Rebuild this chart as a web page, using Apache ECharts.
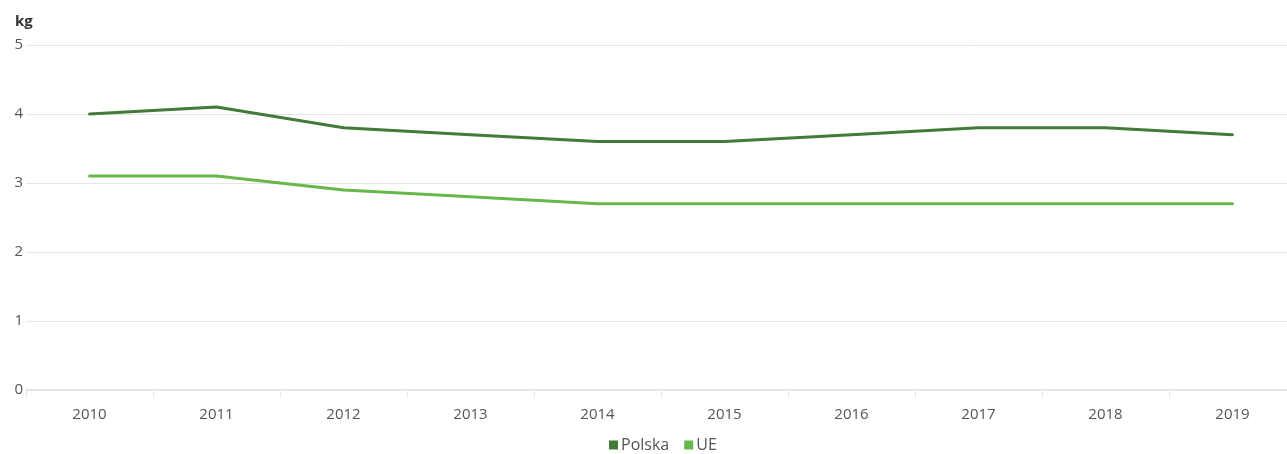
<!DOCTYPE html>
<html>
<head>
<meta charset="utf-8">
<script src="https://cdn.jsdelivr.net/npm/echarts@6/dist/echarts.min.js"></script>
<style>
  html, body { margin: 0; padding: 0; background: #fff; }
  #chart { width: 1287px; height: 454px; }
</style>
</head>
<body>
<div id="chart"></div>
<script>
const years = ['2010', '2011', '2012', '2013', '2014', '2015', '2016', '2017', '2018', '2019'];
const polska = [4.0, 4.1, 3.8, 3.7, 3.6, 3.6, 3.7, 3.8, 3.8, 3.7];
const ue = [3.1, 3.1, 2.9, 2.8, 2.7, 2.7, 2.7, 2.7, 2.7, 2.7];
const yTicks = [0, 1, 2, 3, 4, 5];

const font = '"Open Sans", "Noto Sans", sans-serif';
const chart = echarts.init(document.getElementById('chart'), null, { renderer: 'canvas' });

chart.setOption({
  animation: false,
  textStyle: { fontFamily: font },
  title: {
    text: 'kg',
    left: 10,
    top: 9,
    textStyle: { fontSize: 15, fontWeight: 'bold', color: '#333', fontFamily: font }
  },
  // legend sits centred under the plot area rather than the canvas
  legend: {
    bottom: -4,
    left: 604,
    icon: 'rect',
    itemWidth: 9,
    itemHeight: 9,
    itemGap: 15,
    textStyle: { fontSize: 16, color: '#555', fontFamily: font, padding: [0, 0, 0, -2] },
    data: ['Polska', 'UE']
  },
  // the plot runs slightly past the right edge of the canvas
  grid: { left: 26, top: 45, width: 1270, height: 345, containLabel: false, outerBoundsMode: 'none' },
  xAxis: {
    type: 'category',
    data: years,
    boundaryGap: true,
    axisLine: { lineStyle: { color: '#e6e6e6', width: 2 } },
    axisTick: { show: true, length: 8, lineStyle: { color: '#e6e6e6', width: 1 } },
    axisLabel: { color: '#555', fontSize: 15, margin: 17, fontFamily: font }
  },
  yAxis: {
    type: 'value',
    min: yTicks[0],
    max: yTicks[yTicks.length - 1],
    interval: 1,
    axisLine: { show: false },
    axisTick: { show: false },
    splitLine: { lineStyle: { color: '#e6e6e6', width: 1 } },
    axisLabel: { color: '#555', fontSize: 15, margin: 3, fontFamily: font, verticalAlign: 'middle', padding: [0, 0, 6, 0] }
  },
  series: [
    {
      name: 'Polska',
      type: 'line',
      data: polska,
      symbol: 'none',
      lineStyle: { color: '#427a37', width: 3, join: 'round', cap: 'round' },
      itemStyle: { color: '#427a37' }
    },
    {
      name: 'UE',
      type: 'line',
      data: ue,
      symbol: 'none',
      lineStyle: { color: '#66b84a', width: 3, join: 'round', cap: 'round' },
      itemStyle: { color: '#66b84a' }
    }
  ]
});
</script>
</body>
</html>
